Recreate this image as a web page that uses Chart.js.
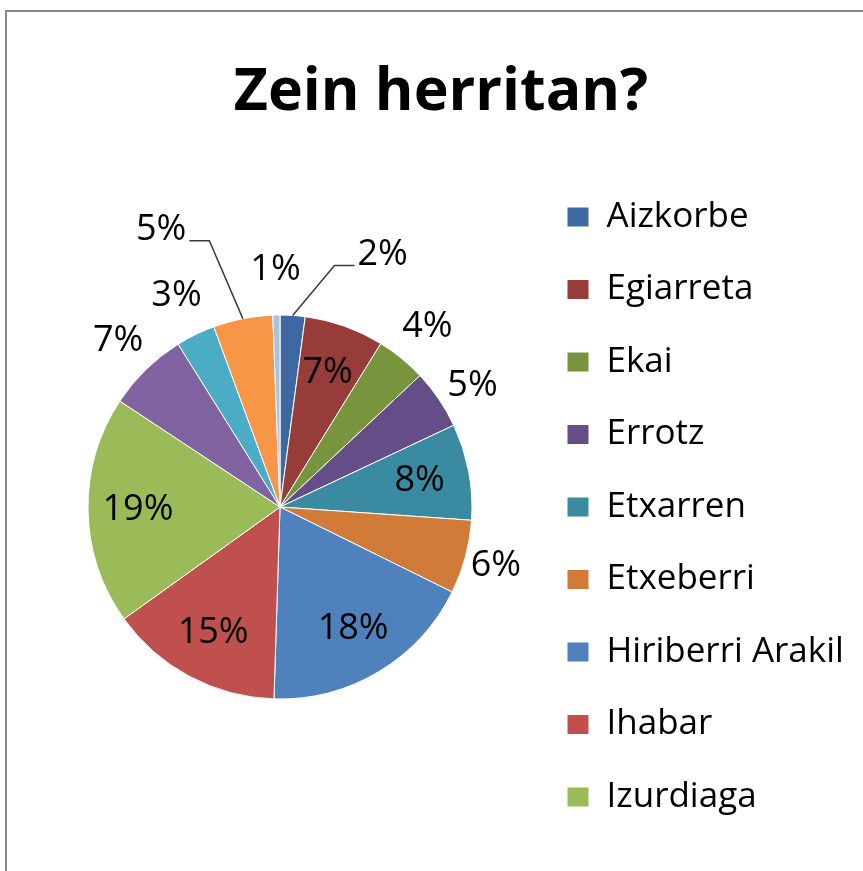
<!DOCTYPE html>
<html><head><meta charset="utf-8">
<script src="https://cdn.jsdelivr.net/npm/chart.js@4/dist/chart.umd.min.js"></script>
<style>
html,body{margin:0;padding:0;background:#fff;overflow:hidden;width:863px;height:871px;}
#frame{position:absolute;left:5px;top:10px;width:900px;height:900px;border-left:2px solid #8a8a8a;border-top:2px solid #8a8a8a;}
#c{position:absolute;left:0;top:0;}
</style></head><body>
<div id="frame"></div>
<canvas id="c" width="884" height="880"></canvas>
<script>
// Villages (categories) and their share of answers (%)
const categories = ['Aizkorbe','Egiarreta','Ekai','Errotz','Etxarren','Etxeberri','Hiriberri Arakil','Ihabar','Izurdiaga','Murgindueta','Satrustegi','Urritzola-Galain','Zuhatzu'];
const shares = [2.1, 6.7, 4.2, 5.0, 8.1, 6.2, 18.2, 14.6, 19.2, 6.8, 3.3, 5.0, 0.6];
const sliceColors = ['#3D68A2','#963D3A','#78953E','#654E87','#3A8BA1','#D07B37','#4F81BD','#C0504D','#9BBB59','#8064A2','#4BACC6','#F79646','#A9C2E0'];
const titleText = 'Zein herritan?';
const visibleLegendCount = 9; // the rest of the legend is cut off in the picture

// label styling / placement (not data)
const insideLabelIdx = [1, 4, 6, 7, 8];
const labelShift = {0: [87, -16], 3: [3, 8], 11: [-73, -45]};
const leaderIdx = [0, 11];

const pctLabels = {
  id: 'pctLabels',
  afterDatasetsDraw(chart) {
    const ctx = chart.ctx;
    const meta = chart.getDatasetMeta(0);
    const vals = chart.data.datasets[0].data;
    const total = vals.reduce((a, b) => a + b, 0);
    ctx.save();
    ctx.font = '36px "Open Sans"';
    ctx.fillStyle = '#000';
    ctx.textAlign = 'center';
    ctx.textBaseline = 'middle';
    meta.data.forEach((arc, i) => {
      const p = arc.getProps(['x','y','startAngle','endAngle','outerRadius'], true);
      const mid = (p.startAngle + p.endAngle) / 2;
      const txt = Math.round(vals[i] / total * 100) + '%';
      const d = insideLabelIdx.includes(i)
        ? p.outerRadius * 0.74
        : p.outerRadius + 27 + 18 * Math.abs(Math.sin(mid));
      let tx = p.x + Math.cos(mid) * d, ty = p.y + Math.sin(mid) * d;
      const sh = labelShift[i];
      if (sh) { tx += sh[0]; ty += sh[1]; }
      if (leaderIdx.includes(i)) {
        const w = ctx.measureText(txt).width;
        const ex = sh[0] > 0 ? tx - w / 2 - 3 : tx + w / 2 + 3;
        const bx = sh[0] > 0 ? ex - 20 : ex + 20;
        const ly = ty + 11;
        ctx.beginPath();
        ctx.moveTo(p.x + Math.cos(mid) * p.outerRadius, p.y + Math.sin(mid) * p.outerRadius);
        ctx.lineTo(bx, ly);
        ctx.lineTo(ex, ly);
        ctx.strokeStyle = '#3a3a3a';
        ctx.lineWidth = 1.5;
        ctx.stroke();
      }
      ctx.fillText(txt, tx, ty);
    });
    ctx.restore();
  }
};

Chart.defaults.color = '#000';
Chart.defaults.font.family = '"Open Sans"';

new Chart(document.getElementById('c'), {
  type: 'pie',
  data: {
    labels: categories,
    datasets: [{
      data: shares,
      backgroundColor: sliceColors,
      borderColor: '#ffffff',
      borderWidth: 1,
      radius: 192
    }]
  },
  options: {
    responsive: false,
    animation: false,
    devicePixelRatio: 1,
    layout: { padding: { left: 30.5, right: 32.5, top: 0, bottom: 26 } },
    plugins: {
      tooltip: { enabled: false },
      title: {
        display: true,
        text: titleText,
        color: '#000',
        font: { family: '"Open Sans"', size: 59, weight: 'bold', lineHeight: 1.2 },
        padding: { top: 57.6, bottom: 31.6 }
      },
      legend: {
        position: 'right',
        align: 'center',
        fullSize: false,
        maxWidth: 322,
        labels: {
          boxWidth: 22,
          boxHeight: 20,
          padding: 37.5,
          color: '#000',
          font: { family: '"Open Sans"', size: 35 },
          filter: (item) => item.index < visibleLegendCount
        }
      }
    }
  },
  plugins: [pctLabels]
});
</script>
</body></html>
